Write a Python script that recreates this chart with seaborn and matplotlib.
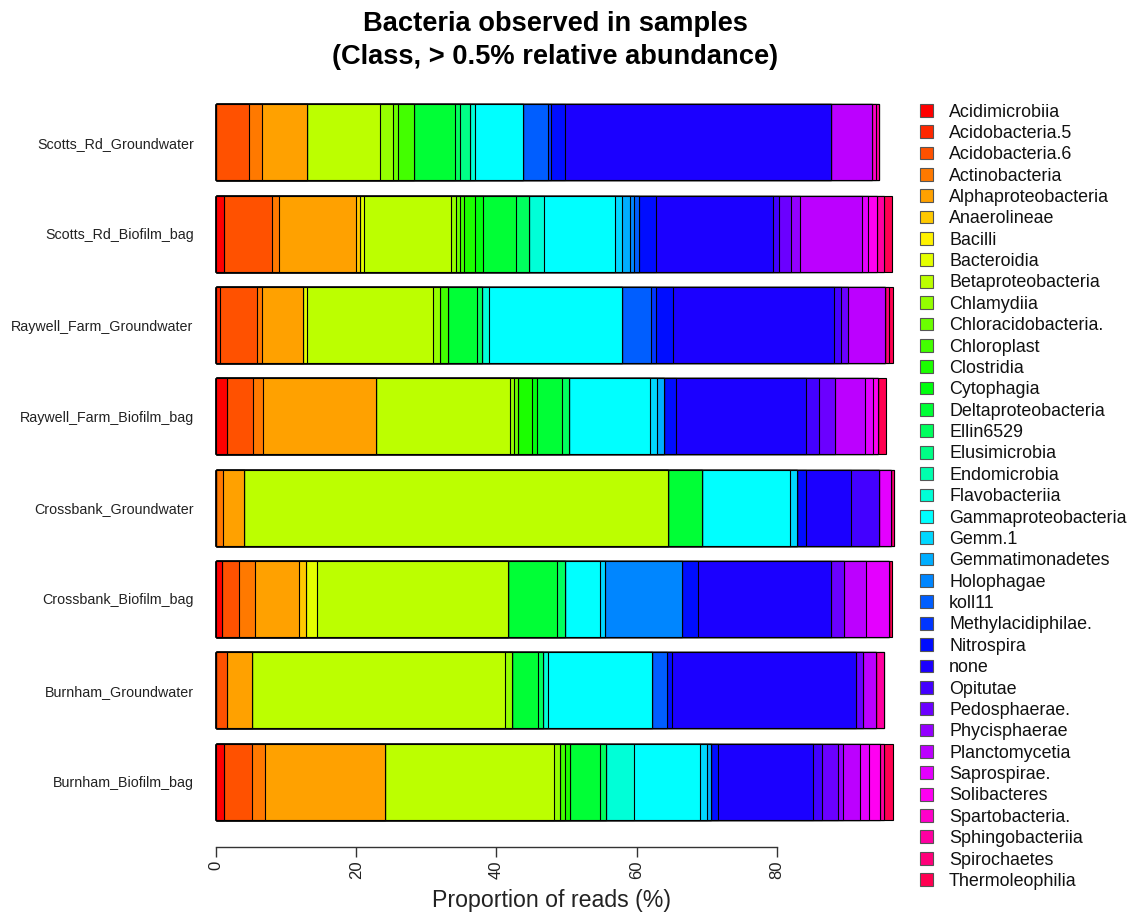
import colorsys
import numpy as np
import pandas as pd
import matplotlib
matplotlib.use("Agg")
import matplotlib.pyplot as plt
from matplotlib.patches import Patch
import seaborn as sns

classes = ["Acidimicrobiia", "Acidobacteria.5", "Acidobacteria.6", "Actinobacteria",
           "Alphaproteobacteria", "Anaerolineae", "Bacilli", "Bacteroidia",
           "Betaproteobacteria", "Chlamydiia", "Chloracidobacteria.", "Chloroplast",
           "Clostridia", "Cytophagia", "Deltaproteobacteria", "Ellin6529",
           "Elusimicrobia", "Endomicrobia", "Flavobacteriia", "Gammaproteobacteria",
           "Gemm.1", "Gemmatimonadetes", "Holophagae", "koll11", "Methylacidiphilae.",
           "Nitrospira", "none", "Opitutae", "Pedosphaerae.", "Phycisphaerae",
           "Planctomycetia", "Saprospirae.", "Solibacteres", "Spartobacteria.",
           "Sphingobacteriia", "Spirochaetes", "Thermoleophilia"]

samples = ["Scotts_Rd_Groundwater", "Scotts_Rd_Biofilm_bag", "Raywell_Farm_Groundwater",
           "Raywell_Farm_Biofilm_bag", "Crossbank_Groundwater", "Crossbank_Biofilm_bag",
           "Burnham_Groundwater", "Burnham_Biofilm_bag"]

#                    Acm  Ac5  Ac6   Act   Alp    Ana   Bac  Bct   Beta   Chl   Cac   Cpl   Clo   Cyt   Del   Ell   Elu  End  Fla   Gam    Gm1   Gmt   Hol   kol   Met   Nit   none   Opi   Ped   Phy   Pla   Sap   Sol   Spa   Sph   Spi   The
scotts_gw       = [0.0, 0.0, 4.7, 1.9, 6.45, 0.0, 0.0, 0.0, 10.3, 1.9, 0.75, 2.25, 0.0, 0.0, 5.8, 0.75, 1.4, 0.0, 0.7, 6.95, 0.0, 0.0, 0.0, 3.5, 0.5, 1.9, 38.0, 0.0, 0.0, 0.0, 5.9, 0.0, 0.0, 0.5, 0.45, 0.0, 0.0]
scotts_bag      = [1.13, 0.0, 6.9, 1.0, 10.9, 0.6, 0.0, 0.65, 12.3, 0.75, 0.6, 0.6, 1.5, 1.1, 4.76, 1.9, 0.0, 0.0, 2.1, 10.2, 0.94, 1.13, 0.63, 0.63, 0.0, 2.5, 16.6, 0.88, 1.75, 1.25, 8.8, 0.94, 1.25, 0.0, 1.0, 0.0, 1.2]
raywell_gw      = [0.0, 0.63, 5.2, 0.8, 5.76, 0.0, 0.0, 0.63, 18.0, 0.88, 0.0, 1.25, 0.0, 0.0, 4.1, 0.75, 0.0, 0.0, 1.0, 18.9, 0.0, 0.0, 0.0, 4.1, 0.75, 2.5, 22.9, 1.07, 0.94, 0.0, 5.3, 0.0, 0.0, 0.0, 0.0, 0.5, 0.63]
raywell_bag     = [1.57, 0.0, 3.76, 1.44, 16.0, 0.0, 0.0, 0.0, 19.1, 0.63, 0.63, 0.0, 1.9, 0.75, 3.6, 0.94, 0.0, 0.0, 0.0, 11.6, 0.94, 1.07, 0.0, 0.0, 0.0, 1.75, 18.5, 1.9, 2.2, 0.0, 4.26, 1.25, 0.63, 0.0, 0.0, 0.0, 1.19]
crossbank_gw    = [0.0, 0.0, 0.0, 0.94, 3.0, 0.0, 0.0, 0.0, 60.6, 0.0, 0.0, 0.0, 0.0, 0.0, 4.76, 0.0, 0.0, 0.0, 0.0, 12.65, 0.94, 0.0, 0.0, 0.0, 0.0, 1.25, 6.45, 4.0, 0.0, 0.0, 0.0, 1.63, 0.0, 0.0, 0.0, 0.5, 0.0]
crossbank_bag   = [0.8, 0.0, 2.5, 2.2, 6.4, 0.94, 0.0, 1.57, 27.3, 0.0, 0.0, 0.0, 0.0, 0.0, 6.9, 1.13, 0.0, 0.0, 0.0, 5.0, 0.75, 0.0, 11.0, 0.0, 0.0, 2.2, 19.1, 0.0, 1.75, 0.0, 3.13, 3.3, 0.0, 0.0, 0.0, 0.0, 0.5]
burnham_gw      = [0.0, 0.0, 1.63, 0.0, 3.45, 0.0, 0.0, 0.0, 36.15, 1.0, 0.0, 0.0, 0.0, 0.0, 3.7, 0.75, 0.0, 0.0, 0.69, 14.85, 0.0, 0.0, 0.0, 2.07, 0.0, 0.75, 26.3, 0.0, 0.94, 0.0, 1.88, 0.0, 0.0, 0.0, 1.07, 0.0, 0.0]
burnham_bag     = [1.13, 0.0, 3.95, 1.88, 17.2, 0.0, 0.0, 0.0, 24.1, 0.81, 0.0, 0.69, 0.75, 0.0, 4.3, 0.81, 0.0, 0.0, 3.95, 9.5, 0.94, 0.63, 0.0, 0.0, 0.0, 0.94, 13.6, 1.25, 2.26, 0.75, 2.5, 1.25, 1.57, 0.0, 0.5, 0.0, 1.38]

xticks = [0, 20, 40, 60, 80]

sns.set_style("white")
plt.rcParams["font.family"] = ["Liberation Sans", "DejaVu Sans"]
plt.rcParams["text.color"] = "black"

n = len(classes)
# R-style rainbow palette (hue steps of 1/38)
colors = [colorsys.hsv_to_rgb(i / (n + 1), 1.0, 1.0) for i in range(n)]

values = np.array([scotts_gw, scotts_bag, raywell_gw, raywell_bag,
                   crossbank_gw, crossbank_bag, burnham_gw, burnham_bag])
cum = values.cumsum(axis=1)

W, H = 1129, 913
fig = plt.figure(figsize=(W / 100, H / 100), dpi=100)
pxu = 7.01
x0 = -1.0
left_px = 216 + x0 * pxu
right_px = 898
ax = fig.add_axes([left_px / W, 1 - 826 / H, (right_px - left_px) / W, (826 - 100) / H])

for k in range(n - 1, -1, -1):
    df = pd.DataFrame({"sample": samples, "cum": cum[:, k]})
    sns.barplot(data=df, x="cum", y="sample", order=samples, orient="h",
                color=colors[k], saturation=1, width=0.833, edgecolor="black",
                linewidth=0.8, errorbar=None, ax=ax)

ax.set_xlim(x0, (right_px - 216) / pxu)
ax.set_ylim(7.487, -0.465)
ax.set_xlabel("")
ax.set_ylabel("")
for s in ["top", "right", "left"]:
    ax.spines[s].set_visible(False)
ax.spines["bottom"].set_bounds(0, 80)
ax.spines["bottom"].set_position(("outward", 15))
ax.spines["bottom"].set_color("#333333")
ax.spines["bottom"].set_linewidth(1.0)
ax.set_xticks(xticks)
ax.set_xticklabels([str(t) for t in xticks], rotation=90, fontsize=12, color="#222222")
ax.tick_params(axis="x", length=7, width=1.0, color="#333333", pad=3, bottom=True)
ax.tick_params(axis="y", length=0, pad=11, labelsize=10.3, labelcolor="#222222")

fig.text(555 / W, 1 - 11 / H, "Bacteria observed in samples\n(Class, > 0.5% relative abundance)",
         ha="center", va="top", fontsize=19.6, fontweight="bold", linespacing=1.36,
         color="black")
fig.text(552 / W, 1 - 900 / H, "Proportion of reads (%)", ha="center", va="center",
         fontsize=16.7, color="#222222")

handles = [Patch(facecolor=colors[i], edgecolor="#555555", linewidth=0.8) for i in range(n)]
leg = fig.legend(handles, classes, loc="upper left", bbox_to_anchor=(920 / W, 1 - 103.5 / H),
                 frameon=False, borderpad=0, borderaxespad=0, handlelength=0.72,
                 handleheight=0.72, handletextpad=0.9, labelspacing=0.244, fontsize=12.9)
for t in leg.get_texts():
    t.set_color("#111111")

fig.savefig("out.png", dpi=100)
